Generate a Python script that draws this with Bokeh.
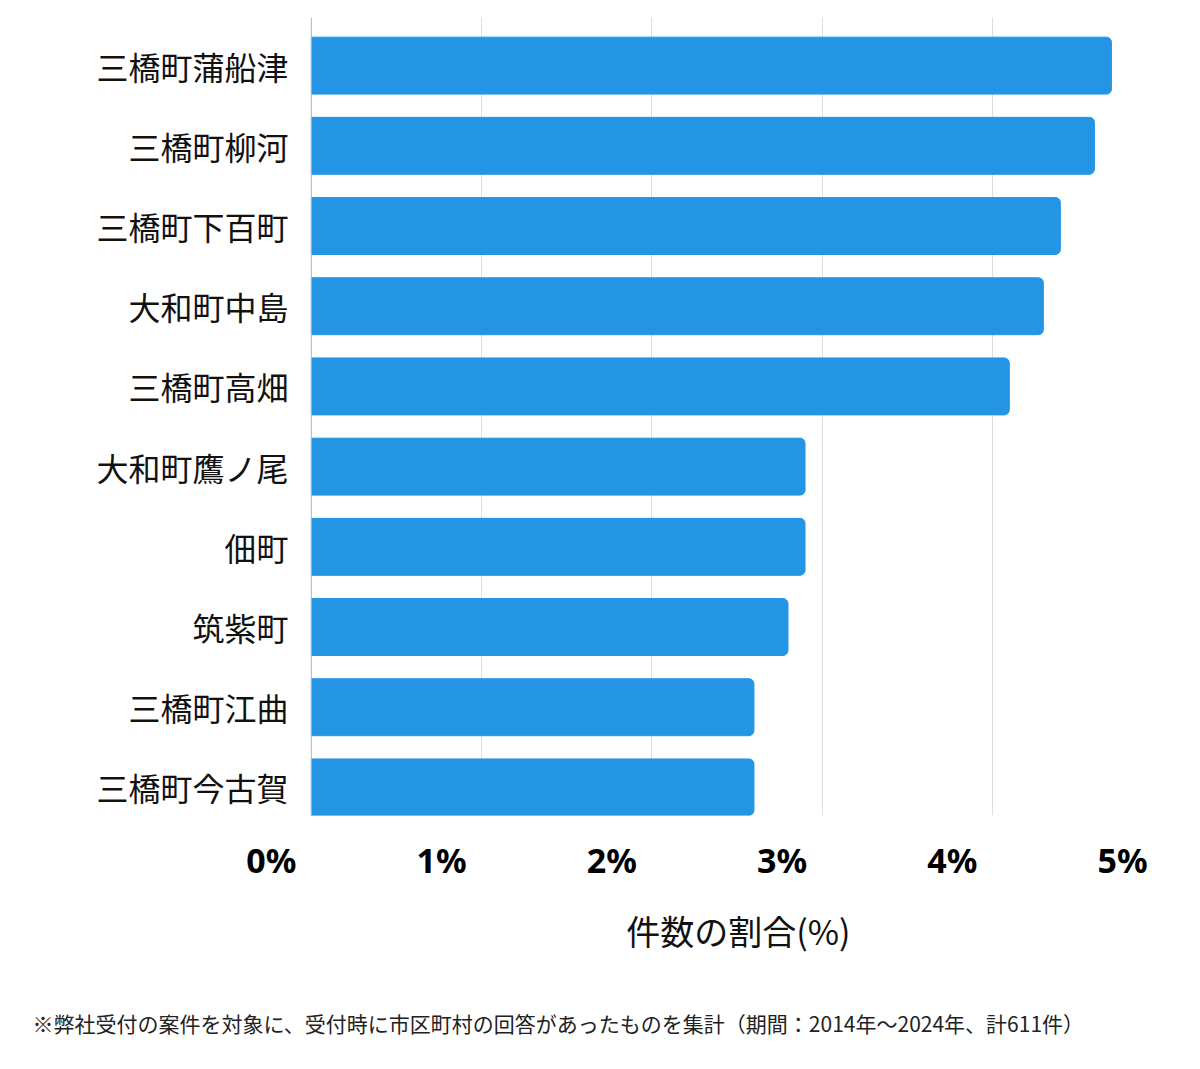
from bokeh.plotting import figure
from bokeh.models import Range1d, FixedTicker, LinearAxis, Title, Span
from bokeh.embed import file_html
from bokeh.resources import INLINE

categories = ["三橋町蒲船津", "三橋町柳河", "三橋町下百町", "大和町中島", "三橋町高畑",
              "大和町鷹ノ尾", "佃町", "筑紫町", "三橋町江曲", "三橋町今古賀"]
values = [4.7, 4.6, 4.4, 4.3, 4.1, 2.9, 2.9, 2.8, 2.6, 2.6]
x_ticks = [0, 1, 2, 3, 4, 5]
x_tick_labels = ["0%", "1%", "2%", "3%", "4%", "5%"]
x_label = "件数の割合(%)"
footnote = "※弊社受付の案件を対象に、受付時に市区町村の回答があったものを集計（期間：2014年～2024年、計611件）"

n = len(categories)
ypos = [n - 1 - i for i in range(n)]

FONT = "Noto Sans CJK JP"
W, H = 1200, 1069
X_PAD = 0.24         # room left of 0 so the shifted "0%" label stays inside the axis range
LABEL_SHIFT = 0.235  # tick labels sit left of their grid lines, as in the reference

p = figure(width=W, height=H, output_backend="svg", toolbar_location=None,
           x_range=Range1d(-X_PAD, x_ticks[-1]), y_range=Range1d(-0.35, n - 0.4),
           x_axis_location=None,
           min_border_left=270, min_border_right=38, min_border_top=17, min_border_bottom=254)
p.outline_line_color = None
p.background_fill_color = "white"
p.border_fill_color = "white"

p.xgrid.grid_line_color = "#dedede"
p.xgrid.ticker = FixedTicker(ticks=x_ticks[1:])
p.ygrid.grid_line_color = None
p.add_layout(Span(location=0, dimension="height", line_color="#b5b5b5", line_width=1))

p.hbar(y=ypos, right=values, left=0, height=0.71, color="#2494e4",
       border_radius=(0, 5, 5, 0))

# x tick labels on a shifted copy of the x range so they sit left of the grid lines
p.extra_x_ranges = {"lab": Range1d(-X_PAD + LABEL_SHIFT, x_ticks[-1] + LABEL_SHIFT)}
xa = LinearAxis(x_range_name="lab")
xa.ticker = FixedTicker(ticks=x_ticks)
xa.major_label_overrides = {t: l for t, l in zip(x_ticks, x_tick_labels)}
xa.major_label_text_font = "Noto Sans"
xa.major_label_text_font_style = "bold"
xa.major_label_text_font_size = "34px"
xa.major_label_text_color = "#000000"
xa.major_label_standoff = 15
xa.axis_line_color = None
xa.major_tick_line_color = None
xa.minor_tick_line_color = None
p.add_layout(xa, "below")

# x axis title, centred under the bars' area
p.add_layout(Title(text=x_label, align="right", offset=312, standoff=37,
                   text_font=FONT, text_font_size="34px", text_font_style="normal",
                   text_color="#111111"), "below")

# y axis
ya = p.yaxis[0]
ya.ticker = FixedTicker(ticks=ypos)
ya.major_label_overrides = {y: c for y, c in zip(ypos, categories)}
ya.major_label_text_font = FONT
ya.major_label_text_font_size = "32px"
ya.major_label_text_color = "#111111"
ya.major_tick_out = 0
ya.major_tick_in = 0
ya.major_label_standoff = -18
ya.axis_line_color = None
ya.major_tick_line_color = None
ya.minor_tick_line_color = None

p.add_layout(Title(text=footnote, align="left", offset=-238, standoff=64,
                   text_font=FONT, text_font_size="21px", text_font_style="normal",
                   text_color="#222222"), "below")

open("out.html", "w").write(file_html(p, INLINE))
